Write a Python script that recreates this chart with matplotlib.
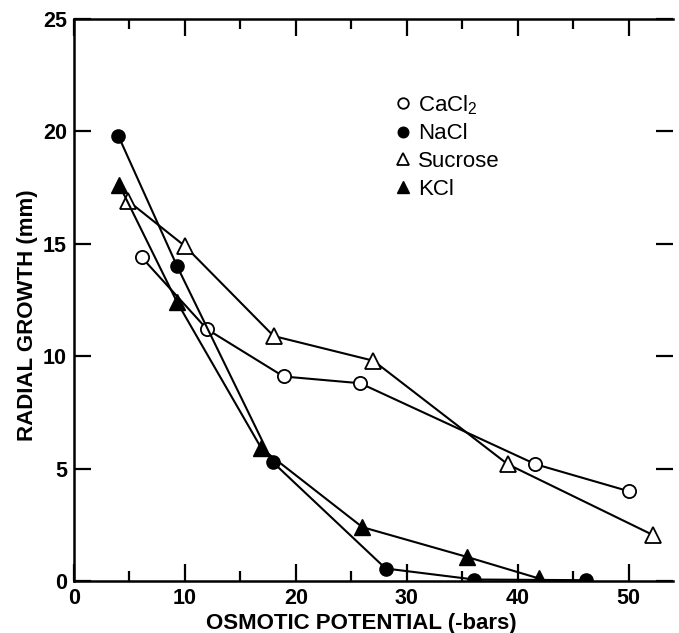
import matplotlib
matplotlib.use('Agg')
import matplotlib.pyplot as plt
from matplotlib.ticker import MultipleLocator

plt.rcParams['font.family'] = ['Liberation Sans', 'DejaVu Sans']
plt.rcParams['mathtext.fontset'] = 'custom'
plt.rcParams['mathtext.rm'] = 'Liberation Sans'
plt.rcParams['mathtext.it'] = 'Liberation Sans'

# data (osmotic potential in -bars, radial growth in mm)
cacl2_x = [6.1, 12.0, 18.9, 25.8, 41.6, 50.0]
cacl2_y = [14.4, 11.2, 9.1, 8.8, 5.2, 4.0]
nacl_x = [4.0, 9.3, 17.9, 28.1, 36.1, 46.2]
nacl_y = [19.8, 14.0, 5.3, 0.56, 0.07, 0.04]
sucrose_x = [4.9, 10.0, 18.0, 27.0, 39.1, 52.2]
sucrose_y = [16.9, 14.9, 10.9, 9.8, 5.2, 2.05]
kcl_x = [4.1, 9.3, 16.9, 26.0, 35.4, 41.9]
kcl_y = [17.6, 12.4, 5.9, 2.4, 1.08, 0.12]

fig = plt.figure(figsize=(6.79, 6.33), dpi=100)
ax = fig.add_axes([0.109, 0.082, 0.882, 0.888])

lw = 1.5
ms = 9.5
ax.plot(cacl2_x, cacl2_y, '-o', color='black', lw=lw, ms=ms, mfc='white', mec='black', mew=1.3, label='CaCl$_\\mathregular{2}$', zorder=3)
ax.plot(nacl_x, nacl_y, '-o', color='black', lw=lw, ms=ms, mfc='black', mec='black', label='NaCl', zorder=3)
ax.plot(sucrose_x, sucrose_y, '-^', color='black', lw=lw, ms=ms + 2, mfc='white', mec='black', mew=1.3, label='Sucrose', zorder=3)
ax.plot(kcl_x, kcl_y, '-^', color='black', lw=lw, ms=ms + 2, mfc='black', mec='black', label='KCl', zorder=3)

ax.set_xlim(0, 54)
ax.set_ylim(0, 25)
ax.xaxis.set_major_locator(MultipleLocator(10))
ax.xaxis.set_minor_locator(MultipleLocator(5))
ax.yaxis.set_major_locator(MultipleLocator(5))

ax.spines['right'].set_visible(False)
for s in ['left', 'bottom', 'top']:
    ax.spines[s].set_linewidth(1.8)
ax.tick_params(which='both', direction='in', top=True, right=True, width=1.6)
ax.tick_params(which='major', length=12, labelsize=15.5, pad=5)
ax.tick_params(which='minor', length=7)
for lab in ax.get_xticklabels() + ax.get_yticklabels():
    lab.set_fontweight('bold')

ax.set_xlabel('OSMOTIC POTENTIAL (-bars)', fontsize=16, fontweight='bold', labelpad=3, x=0.48)
ax.set_ylabel('RADIAL GROWTH (mm)', fontsize=16, fontweight='bold', labelpad=4, y=0.473)

leg = ax.legend(loc='upper left', bbox_to_anchor=(0.52, 0.888), frameon=False,
                fontsize=16, handlelength=0.6, handletextpad=0.35, labelspacing=0.3,
                markerscale=0.8, borderpad=0)
for h in leg.legend_handles:
    h.set_linestyle('none')

fig.savefig('out.png', dpi=100)
